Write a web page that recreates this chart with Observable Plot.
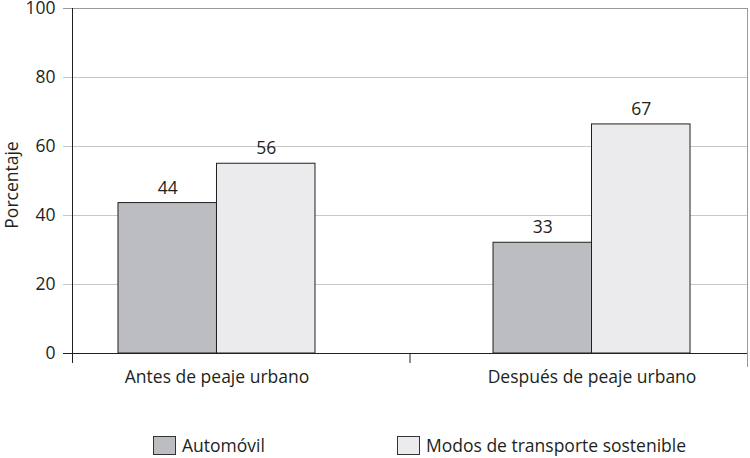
<!DOCTYPE html>
<html>
<head>
<meta charset="utf-8">
<script src="https://cdn.jsdelivr.net/npm/d3@7"></script>
<script src="https://cdn.jsdelivr.net/npm/@observablehq/plot@0.6"></script>
<style>
  body { margin: 0; background: #fff; font-family: "Open Sans", sans-serif; color: #231f20; }
  #chart { width: 750px; height: 458px; position: relative; overflow: hidden; }
  #chart svg { display: block; }
  .legend { position: relative; height: 38px; font-size: 17.5px; }
  .item { position: absolute; top: 16px; display: flex; align-items: center; gap: 6px; line-height: 19px; white-space: nowrap; }
  .sw { width: 23px; height: 19px; border: 1px solid #333; box-sizing: border-box; }
</style>
</head>
<body>
<div id="chart"></div>
<script>
// ---- data ----
const categories = ["Antes de peaje urbano", "Después de peaje urbano"];
const series = ["Automóvil", "Modos de transporte sostenible"];
const automovil = [43.6, 32.1];          // bar heights
const sostenible = [55.0, 66.4];
const automovilLabels = ["44", "33"];    // printed value labels
const sostenibleLabels = ["56", "67"];
const yTicks = [0, 20, 40, 60, 80, 100];
const seriesColors = ["#bcbdc0", "#ebebed"];

// ---- table ----
const rows = categories.flatMap((c, i) => [
  {category: c, series: series[0], value: automovil[i], label: automovilLabels[i]},
  {category: c, series: series[1], value: sostenible[i], label: sostenibleLabels[i]}
]);

// group layout in x data units (each category slot spans 1 unit)
const outer = d3.scaleBand().domain(categories).range([0, categories.length])
  .paddingInner(0.4747).paddingOuter(0.1373).align(0.4466);
const inner = d3.scaleBand().domain(series).range([0, outer.bandwidth()]);
const bx1 = d => outer(d.category) + inner(d.series);
const bx2 = d => bx1(d) + inner.bandwidth();
const bmid = d => bx1(d) + inner.bandwidth() / 2;

const ink = "#231f20";

const svg = Plot.plot({
  width: 750,
  height: 420,
  marginLeft: 72,
  marginRight: 3,
  marginTop: 8,
  marginBottom: 67,
  style: {fontFamily: "Open Sans", fontSize: "17.5px", color: ink, background: "#fff", overflow: "visible"},
  x: {domain: [0, categories.length], axis: null},
  y: {domain: [0, 100], ticks: yTicks, tickSize: 0, tickPadding: 17, label: null, tickFormat: d => String(d)},
  color: {domain: series, range: seriesColors},
  marks: [
    Plot.ruleY(yTicks.filter(t => t > 0 && t < 100), {stroke: "#c8c8c8", insetLeft: -9}),
    Plot.ruleY([100], {stroke: "#9a9a9a", insetLeft: -9}),
    Plot.ruleX([categories.length], {y1: 0, y2: 100, stroke: "#9a9a9a"}),
    Plot.ruleX([categories.length], {y1: 0, y2: 0, insetBottom: -14, stroke: "#9a9a9a"}),
    Plot.rect(rows, {x1: bx1, x2: bx2, y1: 0, y2: "value", fill: "series", stroke: ink, strokeWidth: 1}),
    Plot.ruleY([0], {stroke: ink, insetLeft: -9}),
    Plot.ruleX([0], {y1: 0, y2: 100, stroke: ink}),
    Plot.ruleX([0, 1], {y1: 0, y2: 0, insetBottom: -10, stroke: ink}),
    Plot.text(rows, {x: bmid, y: "value", text: "label", dy: -15, fill: ink}),
    Plot.text(categories, {x: d => outer(d) + outer.bandwidth() / 2, frameAnchor: "bottom", dy: 29, text: d => d, fill: ink}),
    Plot.text(["Porcentaje"], {frameAnchor: "left", textAnchor: "middle", rotate: -90, dx: -60, dy: 4, text: d => d, fill: ink})
  ]
});

const chart = document.getElementById("chart");
chart.appendChild(svg);

// legend (HTML, below the SVG)
const legend = document.createElement("div");
legend.className = "legend";
const lefts = ["153px", "397px"];
series.forEach((s, i) => {
  const item = document.createElement("div");
  item.className = "item";
  item.style.left = lefts[i];
  const sw = document.createElement("span");
  sw.className = "sw";
  sw.style.background = seriesColors[i];
  const tx = document.createElement("span");
  tx.textContent = s;
  item.appendChild(sw);
  item.appendChild(tx);
  legend.appendChild(item);
});
chart.appendChild(legend);
</script>
</body>
</html>
